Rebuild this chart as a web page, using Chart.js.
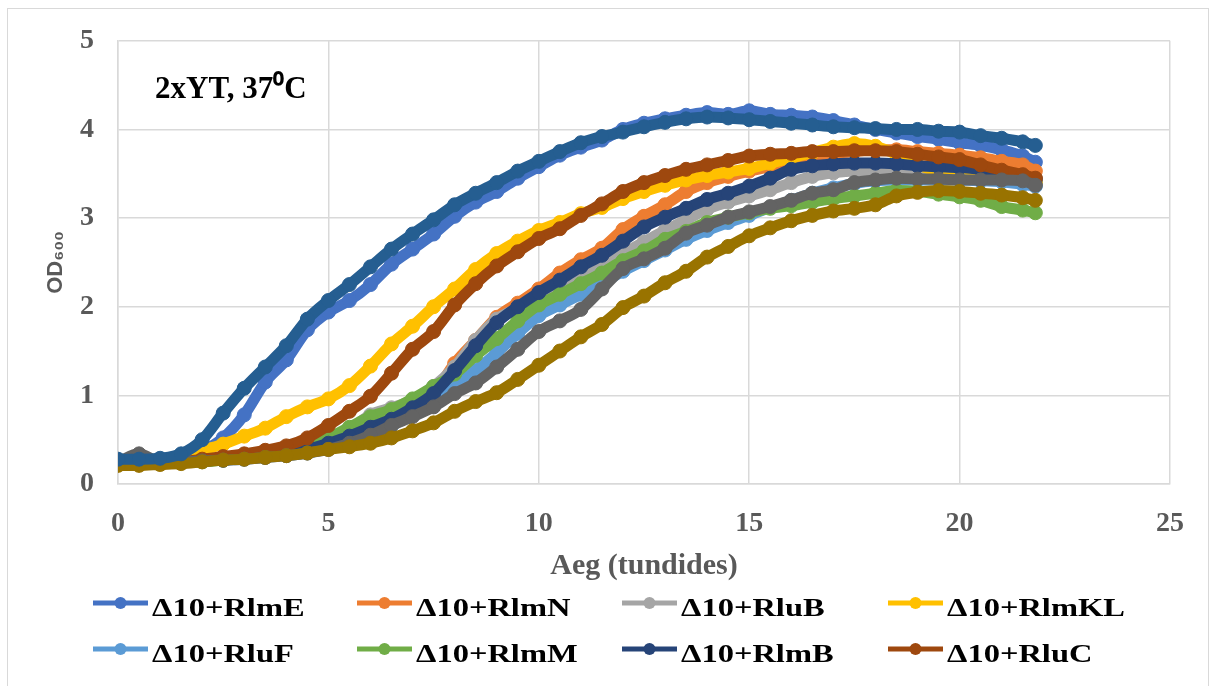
<!DOCTYPE html>
<html>
<head>
<meta charset="utf-8">
<script src="https://cdn.jsdelivr.net/npm/chart.js@4.4.1/dist/chart.umd.min.js"></script>
<style>
  html, body { margin: 0; padding: 0; background: #fff; }
  #wrap { width: 1211px; height: 686px; }
</style>
</head>
<body>
<div id="wrap"><canvas id="chart" width="1211" height="686"></canvas></div>
<script>
// ---------------- DATA ----------------
const hours = [0,0.5,1,1.5,2,2.5,3,3.5,4,4.5,5,5.5,6,6.5,7,7.5,8,8.5,9,9.5,10,10.5,11,11.5,12,12.5,13,13.5,14,14.5,15,15.5,16,16.5,17,17.5,18,18.5,19,19.5,20,20.5,21,21.5,21.8];

const rlmE  = [0.25,0.26,0.27,0.30,0.37,0.52,0.78,1.15,1.40,1.74,1.94,2.07,2.25,2.48,2.65,2.82,3.02,3.18,3.30,3.45,3.58,3.71,3.80,3.88,4.00,4.07,4.12,4.16,4.19,4.17,4.21,4.17,4.16,4.14,4.10,4.05,4.00,3.96,3.92,3.89,3.85,3.82,3.77,3.70,3.63];
const rlmN  = [0.23,0.23,0.24,0.25,0.27,0.28,0.30,0.32,0.35,0.40,0.46,0.54,0.63,0.72,0.86,1.02,1.36,1.62,1.88,2.04,2.20,2.38,2.53,2.66,2.87,3.02,3.15,3.30,3.40,3.47,3.53,3.58,3.64,3.70,3.73,3.75,3.77,3.77,3.75,3.73,3.71,3.68,3.64,3.60,3.53];
const rluB  = [0.23,0.23,0.24,0.25,0.26,0.27,0.29,0.31,0.34,0.40,0.50,0.62,0.78,0.86,0.95,1.10,1.32,1.62,1.86,1.98,2.09,2.23,2.36,2.46,2.60,2.73,2.86,2.98,3.10,3.18,3.25,3.32,3.40,3.47,3.51,3.53,3.53,3.53,3.50,3.48,3.46,3.45,3.43,3.42,3.40];
const rlmKL = [0.22,0.23,0.25,0.30,0.38,0.45,0.54,0.63,0.76,0.87,0.96,1.11,1.33,1.58,1.78,2.00,2.20,2.42,2.60,2.74,2.86,2.95,3.05,3.12,3.22,3.30,3.37,3.43,3.48,3.52,3.56,3.62,3.68,3.74,3.80,3.84,3.81,3.72,3.60,3.53,3.50,3.47,3.45,3.42,3.40];
const rluF  = [0.23,0.23,0.24,0.25,0.26,0.27,0.28,0.30,0.32,0.35,0.40,0.47,0.55,0.66,0.78,0.92,1.10,1.28,1.48,1.70,1.90,2.02,2.14,2.26,2.40,2.52,2.64,2.76,2.86,2.95,3.03,3.12,3.20,3.28,3.34,3.39,3.42,3.43,3.43,3.43,3.43,3.42,3.41,3.38,3.36];
const rlmM  = [0.22,0.22,0.23,0.24,0.25,0.27,0.29,0.31,0.35,0.42,0.52,0.64,0.76,0.84,0.96,1.10,1.24,1.45,1.64,1.84,2.02,2.14,2.26,2.38,2.52,2.63,2.76,2.85,2.95,3.01,3.06,3.11,3.14,3.18,3.22,3.25,3.28,3.31,3.30,3.27,3.24,3.20,3.13,3.09,3.06];
const rlmB  = [0.23,0.23,0.24,0.25,0.26,0.27,0.29,0.31,0.34,0.39,0.46,0.54,0.64,0.73,0.86,1.02,1.28,1.56,1.82,2.00,2.16,2.30,2.45,2.58,2.74,2.90,3.01,3.11,3.21,3.28,3.36,3.45,3.55,3.59,3.61,3.62,3.62,3.61,3.59,3.58,3.57,3.55,3.52,3.48,3.44];
const rluC  = [0.22,0.22,0.23,0.25,0.28,0.31,0.34,0.38,0.43,0.52,0.66,0.82,0.99,1.25,1.52,1.72,2.02,2.26,2.46,2.62,2.77,2.88,3.03,3.16,3.30,3.40,3.48,3.55,3.60,3.65,3.70,3.72,3.73,3.75,3.75,3.76,3.76,3.75,3.72,3.69,3.66,3.60,3.54,3.49,3.45];
// three more series are plotted but left out of the legend
const extraA = [0.25,0.34,0.25,0.25,0.26,0.27,0.28,0.30,0.32,0.35,0.39,0.46,0.55,0.66,0.76,0.87,1.02,1.14,1.32,1.52,1.72,1.84,1.97,2.20,2.43,2.54,2.66,2.83,2.92,3.01,3.07,3.13,3.20,3.28,3.32,3.40,3.43,3.45,3.44,3.44,3.43,3.43,3.43,3.42,3.37];
const extraB = [0.21,0.21,0.22,0.23,0.25,0.27,0.28,0.30,0.32,0.35,0.39,0.42,0.46,0.52,0.60,0.69,0.82,0.93,1.03,1.18,1.34,1.50,1.66,1.80,1.99,2.12,2.27,2.40,2.56,2.68,2.80,2.89,2.97,3.03,3.08,3.11,3.15,3.25,3.29,3.31,3.30,3.28,3.26,3.23,3.20];
const extraC = [0.28,0.28,0.29,0.34,0.50,0.80,1.08,1.32,1.56,1.86,2.07,2.25,2.45,2.65,2.82,2.98,3.15,3.28,3.40,3.53,3.64,3.75,3.85,3.92,3.97,4.03,4.08,4.12,4.14,4.13,4.11,4.09,4.07,4.05,4.03,4.02,4.01,4.00,4.00,3.98,3.97,3.93,3.90,3.86,3.82];

const seriesNames = ["Δ10+RlmE","Δ10+RlmN","Δ10+RluB","Δ10+RlmKL","Δ10+RluF","Δ10+RlmM","Δ10+RlmB","Δ10+RluC","seeria 9","seeria 10","seeria 11"];
const seriesValues = [rlmE, rlmN, rluB, rlmKL, rluF, rlmM, rlmB, rluC, extraA, extraB, extraC];
const seriesColors = ["#4472C4","#ED7D31","#A5A5A5","#FFC000","#5B9BD5","#70AD47","#264478","#9E480E","#636363","#997300","#255E91"];
const legendCount = 8;

const xTicks = [0, 5, 10, 15, 20, 25];
const yTicks = [0, 1, 2, 3, 4, 5];

const SERIF = "'Liberation Serif', 'Times New Roman', serif";
const GREY = "#595959";

// ---------------- DATASETS ----------------
const datasets = seriesValues.map((vals, i) => ({
  label: seriesNames[i],
  data: hours.map((h, j) => ({ x: h, y: vals[j] })),
  borderColor: seriesColors[i],
  backgroundColor: seriesColors[i],
  pointBackgroundColor: seriesColors[i],
  pointBorderColor: seriesColors[i],
  borderWidth: 11,
  pointRadius: 7,
  pointBorderWidth: 1,
  cubicInterpolationMode: "monotone",
  // excel draws the first series first, so later series sit on top
  order: seriesValues.length - i
}));

// ---------------- PLUGINS ----------------
const frame = {
  id: "frame",
  beforeDraw(chart) {
    const c = chart.ctx;
    c.save();
    c.fillStyle = "#fff";
    c.fillRect(0, 0, chart.width, chart.height);
    c.strokeStyle = "#D9D9D9";
    c.lineWidth = 1;
    c.strokeRect(7.5, 8.5, chart.width - 10, chart.height + 10);
    c.restore();
  }
};

const note = {
  id: "note",
  afterDraw(chart) {
    const c = chart.ctx, a = chart.chartArea;
    c.save();
    c.fillStyle = "#000";
    c.font = "bold 31px " + SERIF;
    c.textBaseline = "alphabetic";
    c.fillText("2xYT, 37⁰C", a.left + 37, a.top + 57);
    c.restore();
  }
};

const legendBox = {
  id: "legendBox",
  afterDraw(chart) {
    const c = chart.ctx;
    const colX = [93, 357, 622, 888];
    const rowY = [603, 649];
    c.save();
    for (let i = 0; i < legendCount; i++) {
      const x = colX[i % 4], y = rowY[Math.floor(i / 4)];
      c.strokeStyle = seriesColors[i];
      c.fillStyle = seriesColors[i];
      c.lineWidth = 5;
      c.beginPath();
      c.moveTo(x, y);
      c.lineTo(x + 55, y);
      c.stroke();
      c.beginPath();
      c.arc(x + 27.5, y, 6, 0, Math.PI * 2);
      c.fill();

      c.save();
      c.translate(x + 59, y + 13);
      c.scale(1.25, 1);
      c.fillStyle = "#000";
      c.font = "bold 26px " + SERIF;
      c.textBaseline = "alphabetic";
      c.fillText(seriesNames[i], 0, 0);
      c.restore();
    }
    c.restore();
  }
};

// ---------------- CHART ----------------
const chart = new Chart(document.getElementById("chart"), {
  type: "line",
  data: { datasets },
  options: {
    responsive: false,
    animation: false,
    layout: { padding: { left: 22, right: 41, top: 17, bottom: 100 } },
    plugins: {
      legend: { display: false },
      tooltip: { enabled: false }
    },
    scales: {
      x: {
        type: "linear",
        min: xTicks[0],
        max: xTicks[xTicks.length - 1],
        afterBuildTicks(s) { s.ticks = xTicks.map(v => ({ value: v })); },
        afterFit(s) { s.height = 102; },
        grid: { color: "#D9D9D9", lineWidth: 1.5, drawTicks: false },
        border: { color: "#D9D9D9", width: 1.5 },
        ticks: { color: GREY, padding: 23, font: { family: SERIF, size: 28, weight: "bold" } },
        title: {
          display: true,
          text: "Aeg (tundides)",
          color: GREY,
          padding: { top: 0, bottom: 2 },
          font: { family: SERIF, size: 30, weight: "bold" }
        }
      },
      y: {
        min: yTicks[0],
        max: yTicks[yTicks.length - 1],
        afterBuildTicks(s) { s.ticks = yTicks.map(v => ({ value: v })); },
        afterFit(s) { s.width = 96; },
        grid: { color: "#D9D9D9", lineWidth: 1.5, drawTicks: false },
        border: { color: "#D9D9D9", width: 1.5 },
        ticks: { color: GREY, padding: 24, font: { family: SERIF, size: 28, weight: "bold" } },
        title: {
          display: true,
          text: "OD₆₀₀",
          color: GREY,
          padding: { top: 21, bottom: 0 },
          font: { family: "'Liberation Sans', Arial, sans-serif", size: 22, weight: "bold" }
        }
      }
    }
  },
  plugins: [frame, note, legendBox]
});
</script>
</body>
</html>
